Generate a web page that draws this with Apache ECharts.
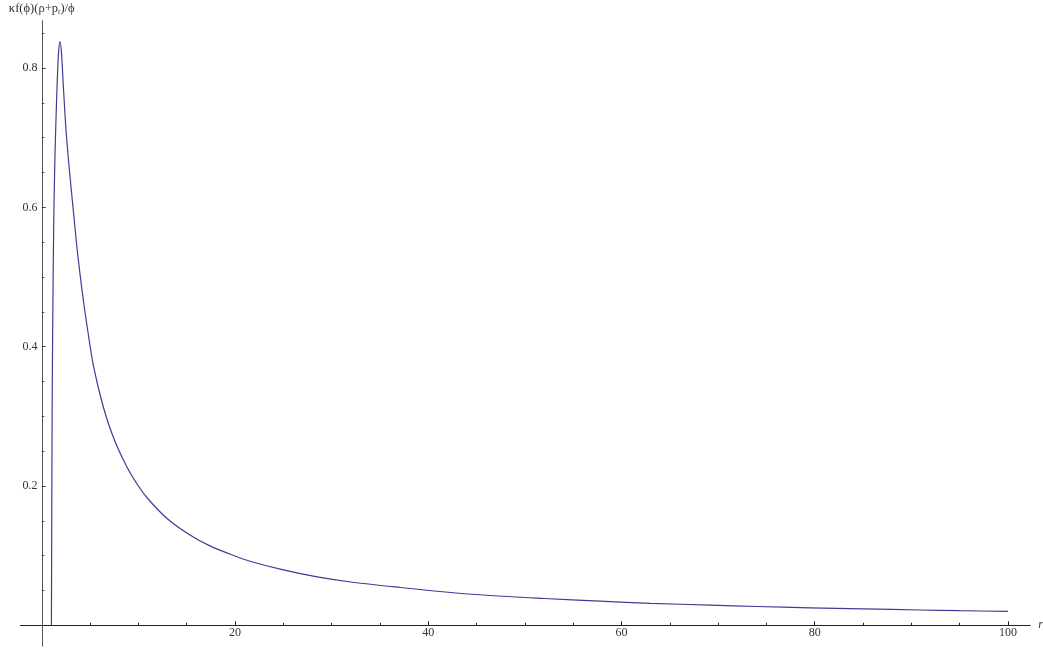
<!DOCTYPE html>
<html>
<head>
<meta charset="utf-8">
<script src="https://cdn.jsdelivr.net/npm/echarts@6/dist/echarts.min.js"></script>
<style>
  html, body { margin: 0; padding: 0; background: #fff; }
  #chart { width: 1043px; height: 650px; }
</style>
</head>
<body>
<div id="chart"></div>
<script>
  // values
  var rValues = [1.0, 1.04, 1.08, 1.13, 1.23, 1.33, 1.44, 1.6, 1.75, 1.89,
    2.05, 2.25, 2.51, 2.85, 3.2, 3.7, 4.3, 4.75, 5.34, 6.3,
    7.41, 8.79, 10, 11.03, 13, 15.3, 17.4, 20, 21.55, 25,
    28.5, 32, 37.1, 41.5, 46.4, 52, 57.8, 63, 69.2, 74,
    79.5, 85, 90.9, 95, 100]
  var fValues = [0, 0.18, 0.32, 0.424, 0.568, 0.65, 0.711, 0.78, 0.825, 0.838,
    0.82, 0.77, 0.711, 0.655, 0.605, 0.535, 0.467, 0.424, 0.373, 0.317,
    0.27, 0.228, 0.2, 0.181, 0.153, 0.13, 0.114, 0.0995, 0.092, 0.0795,
    0.0695, 0.0622, 0.0543, 0.0482, 0.0428, 0.0385, 0.0346, 0.0316, 0.0289, 0.027,
    0.0251, 0.0235, 0.022, 0.021, 0.020]

  var xMajorTicks = [20, 40, 60, 80, 100]
  var xMinorTicks = [5, 10, 15, 25, 30, 35, 45, 50, 55, 65, 70, 75, 85, 90, 95]
  var yMajorTicks = [0.2, 0.4, 0.6, 0.8]
  var yMinorTicks = [0.05, 0.1, 0.15, 0.25, 0.3, 0.35, 0.45, 0.5, 0.55, 0.65, 0.7, 0.75, 0.85]

  var serif = 'Liberation Serif'
  var labelStyle = { fontFamily: serif, fontSize: 12, color: '#333' }

  var points = rValues.map(function (r, i) { return [r, fValues[i]] })

  var chart = echarts.init(document.getElementById('chart'))

  // axis lines sit on zero; labels stay on the grid edge in v6, so they are
  // pulled back to the crossing with negative margins
  chart.setOption({
    backgroundColor: '#fff',
    animation: false,
    grid: {
      left: 20.5,
      right: 12.8,
      top: 20.7,
      bottom: 3.8,
      outerBoundsMode: 'none'
    },
    xAxis: [{
      type: 'value',
      position: 'bottom',
      min: -2.2,
      max: 102.3,
      name: 'r',
      nameLocation: 'end',
      nameGap: 8,
      nameTextStyle: { fontFamily: serif, fontSize: 12, fontStyle: 'italic', color: '#333', verticalAlign: 'middle' },
      axisLine: { onZero: true, lineStyle: { color: '#222', width: 1 } },
      axisTick: { show: true, inside: true, length: 2.5, customValues: xMinorTicks, lineStyle: { color: '#222' } },
      axisLabel: Object.assign({ customValues: xMajorTicks, margin: -19 }, labelStyle),
      splitLine: { show: false }
    }, {
      type: 'value',
      position: 'bottom',
      min: -2.2,
      max: 102.3,
      axisLine: { show: false, onZero: true, onZeroAxisIndex: 0 },
      axisTick: { show: true, inside: true, length: 4, customValues: xMajorTicks, lineStyle: { color: '#222' } },
      axisLabel: { show: false },
      splitLine: { show: false }
    }],
    yAxis: [{
      type: 'value',
      position: 'left',
      min: -0.03,
      max: 0.868,
      name: '{t|κf(ϕ)(ρ+p}{s|r}{t|)/ϕ}',
      nameLocation: 'end',
      nameGap: 5,
      nameTextStyle: {
        rich: {
          t: { fontFamily: serif, fontSize: 12.5, color: '#333', lineHeight: 14, verticalAlign: 'bottom' },
          s: { fontFamily: serif, fontSize: 7.5, color: '#333', lineHeight: 11, verticalAlign: 'bottom' }
        }
      },
      axisLine: { onZero: true, lineStyle: { color: '#555', width: 1 } },
      axisTick: { show: true, inside: true, length: 2.5, customValues: yMinorTicks, lineStyle: { color: '#444' } },
      axisLabel: Object.assign({
        customValues: yMajorTicks,
        margin: -17,
        formatter: function (v) { return v.toFixed(1) }
      }, labelStyle),
      splitLine: { show: false }
    }, {
      type: 'value',
      position: 'left',
      min: -0.03,
      max: 0.868,
      axisLine: { show: false, onZero: true, onZeroAxisIndex: 0 },
      axisTick: { show: true, inside: true, length: 4, customValues: yMajorTicks, lineStyle: { color: '#444' } },
      axisLabel: { show: false },
      splitLine: { show: false }
    }],
    series: [{
      type: 'line',
      xAxisIndex: 0,
      yAxisIndex: 0,
      data: points,
      showSymbol: false,
      smooth: 0.3,
      lineStyle: { color: '#3d3d99', width: 1.2 },
      silent: true
    }]
  })
</script>
</body>
</html>
